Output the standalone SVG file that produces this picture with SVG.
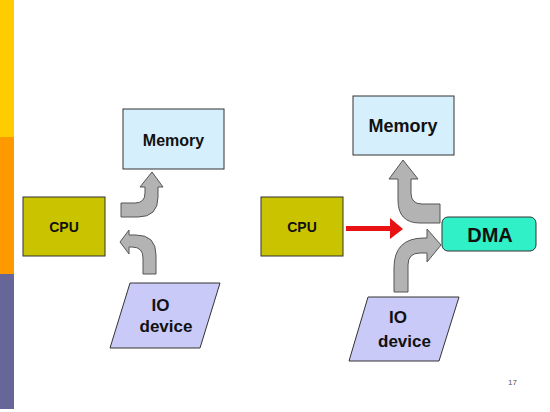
<svg xmlns="http://www.w3.org/2000/svg" width="550" height="412" viewBox="0 0 550 412">
<style>
.box{stroke:#333;stroke-width:1}
.mem{fill:#d6effc}
.cpu{fill:#c9c300}
.io{fill:#cacaf8}
.dma{fill:#2ff0c6}
.garrow{fill:#b3b3b3;stroke:#555;stroke-width:1;stroke-linejoin:miter}
.t{font-family:"Liberation Sans",Arial,sans-serif;font-weight:bold;fill:#111;text-anchor:middle}
</style>
<rect width="550" height="412" fill="#fff"/>
<g id="sidebar">
<rect x="0" y="0" width="14" height="137" fill="#ffcc00"/>
<rect x="0" y="137" width="14" height="137" fill="#ff9900"/>
<rect x="0" y="274" width="14" height="135" fill="#666699"/>
</g>
<g id="memory-left"><rect class="box mem" x="123" y="109" width="101" height="60"/><text class="t" x="173.5" y="146" font-size="16">Memory</text></g>
<g id="cpu-left"><rect class="box cpu" x="23" y="197" width="82" height="59"/><text class="t" x="64" y="232" font-size="14">CPU</text></g>
<g id="io-left"><polygon class="box io" points="130,283 220,283 200,348 110,348"/><text class="t" x="160.5" y="311" font-size="17">IO</text><text class="t" x="166" y="332" font-size="17">device</text></g>
<g id="memory-right"><rect class="box mem" x="353" y="96" width="101" height="59"/><text class="t" x="403" y="132" font-size="18">Memory</text></g>
<g id="cpu-right"><rect class="box cpu" x="261" y="197" width="82" height="59"/><text class="t" x="302" y="232" font-size="14">CPU</text></g>
<g id="dma"><rect class="box dma" x="442" y="217" width="94" height="34" rx="6"/><text class="t" x="490" y="242" font-size="20">DMA</text></g>
<g id="io-right"><polygon class="box io" points="368,297 459,297 439,361 349,361"/><text class="t" x="398" y="323" font-size="17">IO</text><text class="t" x="404.5" y="347" font-size="17">device</text></g>
<g id="connectors">
<path class="garrow" d="M121,203 L135,203 Q145,203 145,193 L145,187 L140,187 L152,172 L163,187 L158,187 L158,197 Q158,217 138,217 L121,217 Z"/>
<path class="garrow" d="M143,274 L143,258 Q143,247 132,247 L129,247 L129,254 L120,242 L129,230 L129,235 L136,235 Q156,235 156,255 L156,274 Z"/>
<path class="garrow" d="M440,204 L422,204 Q411,204 411,193 L411,179 L418,179 L403,160 L389,179 L398,179 L398,200 Q398,223 420,223 L440,223 Z"/>
<path class="garrow" d="M394,292 L394,268 Q394,238 424,238 L427,238 L427,229 L441,245 L427,262 L427,253 L420,253 Q408,253 408,265 L408,292 Z"/>
<path d="M346,226 L390,226 L390,218 L403,229 L390,239 L390,231 L346,231 Z" fill="#e81212"/>
</g>
<text x="512.5" y="385" font-family="Liberation Sans,Arial,sans-serif" font-size="8" fill="#555" text-anchor="middle">17</text>
</svg>
